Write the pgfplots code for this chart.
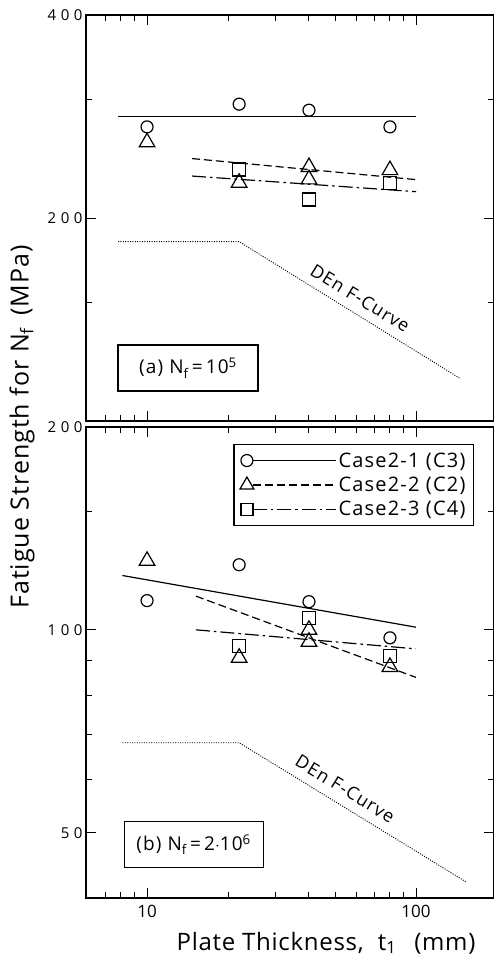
\documentclass[border=0pt]{standalone}
\usepackage{fontspec}
\setmainfont{Open Sans}
\newfontfamily\lsA[LetterSpace=6]{Open Sans}
\newfontfamily\lsB[LetterSpace=4]{Open Sans}
\newfontfamily\lsC[LetterSpace=3]{Open Sans}
\usepackage{pgfplots}
\pgfplotsset{compat=1.18}
\tikzset{
 dashA/.style={dash pattern=on 8pt off 4pt},
 dashdotA/.style={dash pattern=on 14pt off 4pt on 2.5pt off 4pt},
 dotA/.style={dash pattern=on 1pt off 1.4pt, line width=0.9pt},
}
\pgfplotsset{
  legend image code/.code={
    \draw[#1,mark=none] (6pt,0pt) -- (89pt,0pt);
    \draw[#1,solid] plot coordinates {(0pt,0pt)};
  },
}
\newcommand{\dsp}{\hspace{4.5pt}}
\begin{document}
\begin{tikzpicture}[x=1pt,y=1pt]
\useasboundingbox (0pt,0pt) rectangle (494pt,-959pt);
% ---------------- top panel
\begin{axis}[xmode=log, ymode=log,
  scale only axis, width=408pt, height=406pt,
  at={(86pt,-15pt)}, anchor=north west,
  xmin=5.93, xmax=195,
  axis line style={line width=1.3pt},
  tick style={line width=1pt, black},
  major tick length=10pt, minor tick length=6pt,
  tick align=inside,
  xtick={10,100}, minor xtick={7,8,9,20,30,40,50,60,70,80,90},
  yticklabel style={font=\fontsize{15}{18}\selectfont},
  every axis plot/.append style={line width=1.2pt, black},
  every mark/.append style={solid},
  ymin=100, ymax=400, ytick={100,200,400}, minor ytick={150,300},
  yticklabels={,{2\dsp0\dsp0},{4\dsp0\dsp0}}, xticklabels={,}]
\addplot[forget plot, only marks, mark=o, mark size=6pt] coordinates {(10,273)(22,295)(40,289)(80,273)};
\addplot[forget plot, only marks, mark=triangle, mark size=9pt] coordinates {(10,259)(22,225.6)(40,238)(40,228.2)(80,235.5)};
\addplot[forget plot, only marks, mark=square, mark size=6.5pt] coordinates {(22,236)(40,213)(80,225.6)};
\addplot[forget plot, solid] coordinates {(7.8,283)(100,283)};
\addplot[forget plot, dashA] coordinates {(14.7,245)(100,228)};
\addplot[forget plot, dashdotA] coordinates {(14.7,230.8)(100,218.8)};
\addplot[forget plot, dotA] coordinates {(7.8,184.5)(22,184.5)(146,115.6)};
\node[rotate=-31.5, font=\lsA\fontsize{18}{20}\selectfont] at (axis cs:62,152) {DEn F-Curve};
\node[draw, line width=1.2pt, minimum width=140pt, minimum height=46pt, font=\lsA\fontsize{19}{20}\selectfont] at (axis cs:14.2,119.8) {(a)\ N\textsubscript{f}\,=\,10\textsuperscript{5}};
\end{axis}
% ---------------- bottom panel
\begin{axis}[xmode=log, ymode=log,
  scale only axis, width=408pt, height=471pt,
  at={(86pt,-427pt)}, anchor=north west,
  xmin=5.93, xmax=195,
  axis line style={line width=1.3pt},
  tick style={line width=1pt, black},
  major tick length=10pt, minor tick length=6pt,
  tick align=inside,
  xtick={10,100}, minor xtick={7,8,9,20,30,40,50,60,70,80,90},
  yticklabel style={font=\fontsize{15}{18}\selectfont},
  xticklabel style={font=\fontsize{17}{20}\selectfont, yshift=-4pt},
  every axis plot/.append style={line width=1.2pt, black},
  every mark/.append style={solid},
  ymin=40, ymax=200, ytick={50,100,200}, minor ytick={60,70,80,90,150},
  yticklabels={{5\dsp0},{1\dsp0\dsp0},{2\dsp0\dsp0}}, xticklabels={10,100},
  legend style={at={(0.951,0.964)}, anchor=north east, draw=black, line width=1.2pt,
    font=\lsA\fontsize{20}{22}\selectfont, inner xsep=6pt, inner ysep=6pt, row sep=4.5pt},
  legend cell align=left]
\addlegendimage{mark=o, mark size=6pt, solid}
\addlegendentry{Case2-1 (C3)}
\addlegendimage{mark=triangle, mark size=8pt, dashA}
\addlegendentry{Case2-2 (C2)}
\addlegendimage{mark=square, mark size=6pt, dashdotA}
\addlegendentry{Case2-3 (C4)}
\addplot[forget plot, only marks, mark=o, mark size=6pt] coordinates {(10,110.5)(22,124.9)(40,110.1)(80,97.3)};
\addplot[forget plot, only marks, mark=triangle, mark size=9pt] coordinates {(10,126.6)(22,90.9)(40,100)(40,96)(80,88.1)};
\addplot[forget plot, only marks, mark=square, mark size=6.5pt] coordinates {(22,94.6)(40,104.1)(80,91.4)};
\addplot[forget plot, solid] coordinates {(8.1,120.4)(100,100.9)};
\addplot[forget plot, dashA] coordinates {(15.2,112.2)(100,85)};
\addplot[forget plot, dashdotA] coordinates {(15.2,100)(100,93.7)};
\addplot[forget plot, dotA] coordinates {(8.1,68)(22,68)(153,42.3)};
\node[rotate=-31.5, font=\lsA\fontsize{18}{20}\selectfont] at (axis cs:54.5,58.1) {DEn F-Curve};
\node[draw, line width=1.2pt, minimum width=139pt, minimum height=46pt, font=\lsA\fontsize{19}{20}\selectfont] at (axis cs:14.9,48.0) {(b)\ N\textsubscript{f}\,=\,2$\cdot$10\textsuperscript{6}};
\end{axis}
\node[rotate=90, font=\lsB\fontsize{25}{28}\selectfont] at (22pt,-427pt) {Fatigue Strength for N\textsubscript{f}\hspace{12pt}(MPa)};
\node[font=\lsC\fontsize{24}{28}\selectfont] at (326pt,-943pt) {Plate Thickness,\hspace{14pt}t\textsubscript{1}\hspace{18pt}(mm)};
\end{tikzpicture}
\end{document}
